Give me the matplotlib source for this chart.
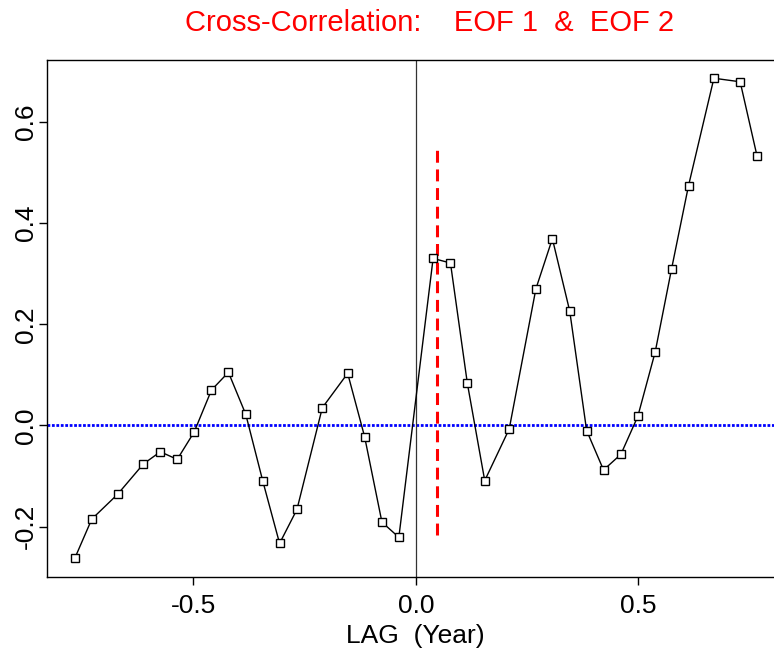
import matplotlib
matplotlib.use('Agg')
import matplotlib.pyplot as plt

plt.rcParams['font.family'] = ['Liberation Sans', 'DejaVu Sans']

# lag in years (irregular spacing)
lags = [-0.766, -0.728, -0.670, -0.612, -0.574, -0.536, -0.498, -0.459, -0.421,
        -0.382, -0.344, -0.306, -0.267, -0.210, -0.153, -0.115, -0.076, -0.038,
        0.039, 0.078, 0.116, 0.155, 0.210, 0.270, 0.307, 0.346, 0.384, 0.422,
        0.461, 0.499, 0.538, 0.575, 0.613, 0.670, 0.729, 0.767]
ccf = [-0.262, -0.185, -0.136, -0.076, -0.052, -0.067, -0.013, 0.070, 0.105,
       0.022, -0.109, -0.233, -0.166, 0.035, 0.103, -0.022, -0.191, -0.221,
       0.330, 0.321, 0.083, -0.109, -0.007, 0.270, 0.369, 0.226, -0.010, -0.088,
       -0.057, 0.018, 0.145, 0.310, 0.474, 0.686, 0.679, 0.532]

peak_lag = 0.048
peak_span = (-0.216, 0.55)

xticks = [-0.5, 0.0, 0.5]
yticks = [-0.2, 0.0, 0.2, 0.4, 0.6]

fig = plt.figure(figsize=(7.74, 6.51), dpi=100)
ax = fig.add_axes([0.0611, 0.1132, 0.9521, 0.7946])

ax.axhline(0, color='blue', lw=2, ls=(0, (1, 0.6)), zorder=1)
ax.axvline(0, color='#333333', lw=0.9, zorder=1)
ax.plot([peak_lag, peak_lag], peak_span, color='red', lw=2.2,
        ls=(0, (3.9, 2.2)), zorder=2)
ax.plot(lags, ccf, color='black', lw=1.0, marker='s', ms=5.6, mfc='white',
        mec='black', mew=1.0, zorder=3)

ax.set_xlim(-0.828, 0.828)
ax.set_ylim(-0.300, 0.722)
ax.set_xticks(xticks)
ax.set_xticklabels(['-0.5', '0.0', '0.5'])
ax.set_yticks(yticks)
ax.set_yticklabels(['-0.2', '0.0', '0.2', '0.4', '0.6'], rotation=90, va='center')
ax.tick_params(direction='out', length=6, width=1, labelsize=19)
ax.tick_params(axis='x', pad=6)
ax.tick_params(axis='y', pad=1)
for s in ax.spines.values():
    s.set_linewidth(1.0)

ax.set_xlabel('LAG  (Year)', fontsize=19, labelpad=4)
fig.text(430 / 774, 1 - 23 / 651, 'Cross-Correlation:    EOF 1  &  EOF 2',
         color='red', fontsize=21, ha='center', va='center')

fig.savefig('out.png', dpi=100)
